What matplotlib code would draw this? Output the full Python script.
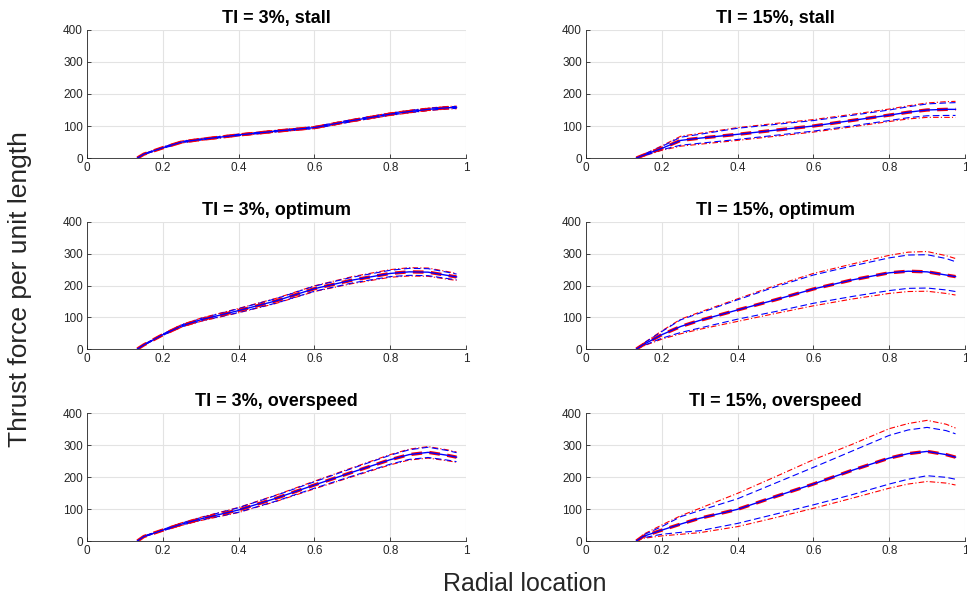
import matplotlib
matplotlib.use("Agg")
import matplotlib.pyplot as plt
import numpy as np

plt.rcParams['font.family'] = ['Liberation Sans', 'DejaVu Sans']

# Radial positions
r = [0.133, 0.15, 0.2, 0.25, 0.3, 0.4, 0.5, 0.6, 0.7, 0.8, 0.85, 0.9, 0.95, 0.975]

# TI = 3%, stall
stall3_mean = [0, 12, 32, 50, 58, 72, 84, 95, 117, 137, 145, 152, 157, 158]
stall3_std_blue = [0, 1, 2, 2, 2, 2, 2, 3, 3, 3, 3, 3, 3, 3]
stall3_std_red = [0, 1, 2, 3, 3, 3, 3, 3, 3, 4, 4, 4, 4, 4]

# TI = 15%, stall
stall15_mean = [0, 8, 30, 55, 62, 74, 87, 100, 117, 134, 143, 150, 152, 152]
stall15_up_blue = [0, 10, 36, 65, 74, 93, 105, 117, 133, 150, 160, 169, 172, 173]
stall15_lo_blue = [0, 6, 26, 40, 46, 58, 71, 84, 100, 117, 126, 132, 133, 133]
stall15_up_red = [0, 10, 38, 68, 77, 95, 108, 120, 136, 153, 163, 172, 176, 177]
stall15_lo_red = [0, 5, 24, 37, 43, 55, 68, 81, 97, 114, 122, 127, 127, 127]

# TI = 3%, optimum
opt3_mean = [0, 13, 45, 73, 92, 121, 152, 190, 217, 238, 243, 242, 232, 227]
opt3_std_blue = [0, 1, 2, 3, 4, 6, 7, 8, 9, 10, 11, 11, 10, 9]
opt3_std_red = [0, 1, 2, 4, 5, 7, 8, 9, 11, 12, 13, 13, 12, 11]

# TI = 15%, optimum
opt15_mean = [0, 13, 45, 71, 90, 123, 155, 189, 217, 240, 245, 243, 233, 228]
opt15_up_blue = [0, 16, 55, 92, 113, 155, 196, 233, 261, 287, 296, 297, 285, 275]
opt15_lo_blue = [0, 10, 34, 52, 66, 94, 118, 144, 165, 184, 191, 192, 186, 181]
opt15_up_red = [0, 17, 57, 94, 116, 158, 200, 238, 267, 295, 305, 307, 294, 285]
opt15_lo_red = [0, 9, 31, 48, 62, 87, 112, 136, 157, 175, 181, 182, 175, 170]

# TI = 3%, overspeed
over3_mean = [0, 14, 34, 53, 69, 97, 134, 175, 215, 254, 270, 277, 268, 262]
over3_std_blue = [0, 1, 2, 3, 4, 7, 9, 10, 12, 14, 15, 16, 15, 14]
over3_std_red = [0, 1, 2, 4, 5, 8, 10, 12, 14, 16, 17, 18, 17, 16]

# TI = 15%, overspeed
over15_mean = [0, 14, 34, 53, 71, 99, 139, 178, 220, 259, 273, 280, 270, 262]
over15_up_blue = [0, 18, 45, 76, 95, 132, 181, 230, 280, 330, 347, 355, 345, 335]
over15_lo_blue = [0, 10, 21, 27, 32, 55, 84, 113, 144, 178, 193, 204, 199, 193]
over15_up_red = [0, 20, 50, 79, 102, 149, 201, 254, 301, 351, 367, 377, 365, 353]
over15_lo_red = [0, 8, 16, 21, 26, 45, 73, 102, 133, 165, 178, 186, 181, 175]

titles = ["TI = 3%, stall", "TI = 15%, stall",
          "TI = 3%, optimum", "TI = 15%, optimum",
          "TI = 3%, overspeed", "TI = 15%, overspeed"]
xticks = [0, 0.2, 0.4, 0.6, 0.8, 1]
xticklabels = ["0", "0.2", "0.4", "0.6", "0.8", "1"]
yticks = [0, 100, 200, 300, 400]


def pm(mean, std, sign):
    return [m + sign * s for m, s in zip(mean, std)]


panels = [
    (stall3_mean, pm(stall3_mean, stall3_std_blue, 1), pm(stall3_mean, stall3_std_blue, -1),
     pm(stall3_mean, stall3_std_red, 1), pm(stall3_mean, stall3_std_red, -1)),
    (stall15_mean, stall15_up_blue, stall15_lo_blue, stall15_up_red, stall15_lo_red),
    (opt3_mean, pm(opt3_mean, opt3_std_blue, 1), pm(opt3_mean, opt3_std_blue, -1),
     pm(opt3_mean, opt3_std_red, 1), pm(opt3_mean, opt3_std_red, -1)),
    (opt15_mean, opt15_up_blue, opt15_lo_blue, opt15_up_red, opt15_lo_red),
    (over3_mean, pm(over3_mean, over3_std_blue, 1), pm(over3_mean, over3_std_blue, -1),
     pm(over3_mean, over3_std_red, 1), pm(over3_mean, over3_std_red, -1)),
    (over15_mean, over15_up_blue, over15_lo_blue, over15_up_red, over15_lo_red),
]

fig = plt.figure(figsize=(9.67, 5.99), dpi=100)
W, H = 967, 599
lefts = [87, 586]
tops = [30, 222, 413]
bottoms = [158, 349, 541]
axw = 379

dark = '#262626'
for i, (mean, ub, lb, ur, lr) in enumerate(panels):
    row, col = divmod(i, 2)
    ax = fig.add_axes([lefts[col] / W, 1 - bottoms[row] / H, axw / W,
                       (bottoms[row] - tops[row]) / H])
    ax.plot(r, ur, color='red', lw=0.8, ls='-.', dashes=(5, 2, 1, 2))
    ax.plot(r, lr, color='red', lw=0.8, ls='-.', dashes=(5, 2, 1, 2))
    ax.plot(r, ub, color='blue', lw=0.8, ls='--', dashes=(6, 3))
    ax.plot(r, lb, color='blue', lw=0.8, ls='--', dashes=(6, 3))
    ax.plot(r, mean, color='red', lw=2.4, ls='--', dashes=(3.2, 2.2))
    ax.plot(r, mean, color='blue', lw=1.0, ls='-')
    ax.set_xlim(0, 1)
    ax.set_ylim(0, 400)
    ax.set_xticks(xticks)
    ax.set_xticklabels(xticklabels)
    ax.set_yticks(yticks)
    ax.grid(True, color='#e3e3e3', lw=0.8)
    ax.set_axisbelow(True)
    for s in ['top', 'right']:
        ax.spines[s].set_visible(False)
    for s in ['left', 'bottom']:
        ax.spines[s].set_color(dark)
        ax.spines[s].set_linewidth(0.6)
    ax.tick_params(direction='in', length=3, width=0.6, color=dark,
                   labelcolor=dark, labelsize=8.5, pad=3)
    ax.set_title(titles[i], fontsize=13, fontweight='bold', pad=5)

fig.text(20 / W, 1 - 289 / H, "Thrust force per unit length", rotation=90,
         ha='center', va='center', fontsize=19, color=dark)
fig.text(525 / W, 1 - 584 / H, "Radial location", ha='center', va='center',
         fontsize=18, color=dark)

fig.savefig("out.png", dpi=100)
